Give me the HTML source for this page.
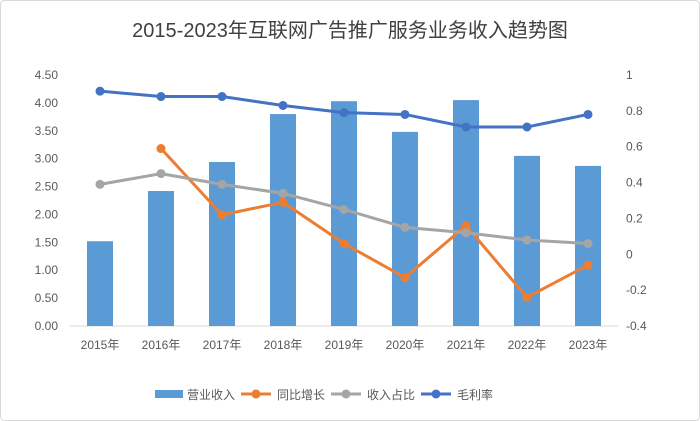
<!DOCTYPE html>
<html><head><meta charset="utf-8"><style>
body{margin:0;background:#fff;}
svg{display:block;font-family:"Liberation Sans","Noto Sans CJK SC",sans-serif;}
</style></head><body>
<svg id="chart" width="700" height="421">
<rect x="0.5" y="0.5" width="699" height="420" rx="4" fill="#fff" stroke="#d9d9d9"/>
<text x="350" y="37" text-anchor="middle" font-size="20" fill="#404040">2015-2023年互联网广告推广服务业务收入趋势图</text>
<g id="plot"></g>
</svg>
<script>
const categories=["2015年","2016年","2017年","2018年","2019年","2020年","2021年","2022年","2023年"];
const revenue=[1.52,2.42,2.94,3.80,4.03,3.48,4.05,3.05,2.87];
const growth=[null,0.59,0.22,0.29,0.06,-0.13,0.16,-0.24,-0.06];
const share=[0.39,0.45,0.39,0.34,0.25,0.15,0.12,0.08,0.06];
const margin=[0.91,0.88,0.88,0.83,0.79,0.78,0.71,0.71,0.78];
const leftTicks=["0.00","0.50","1.00","1.50","2.00","2.50","3.00","3.50","4.00","4.50"];
const rightTicks=["-0.4","-0.2","0","0.2","0.4","0.6","0.8","1"];
const NS="http://www.w3.org/2000/svg";
const g=document.getElementById('plot');
const x0=69.5,x1=618.5,yTop=75,yBot=326;
const step=(x1-x0)/categories.length;
const xc=i=>x0+step*(i+0.5);
const yL=v=>yBot-(v/4.5)*(yBot-yTop);
const yR=v=>yBot-((v+0.4)/1.4)*(yBot-yTop);
function mk(t,a,p){const e=document.createElementNS(NS,t);for(const k in a)e.setAttribute(k,a[k]);(p||g).appendChild(e);return e;}
leftTicks.forEach(t=>{const e=mk('text',{x:58,y:yL(+t)+4,'text-anchor':'end','font-size':12,fill:'#595959'});e.textContent=t;

});
rightTicks.forEach(t=>{const e=mk('text',{x:626,y:yR(+t)+4,'font-size':12,fill:'#595959'});e.textContent=t;

});
const ax=mk('line',{x1:x0,x2:x1,y1:yBot,y2:yBot,stroke:'#d9d9d9'});


categories.forEach((c,i)=>{const e=mk('text',{x:xc(i),y:349,'text-anchor':'middle','font-size':12,fill:'#595959'});e.textContent=c;

});
revenue.forEach((v,i)=>{const b=mk('rect',{x:xc(i)-13,y:yL(v),width:26,height:yBot-yL(v),fill:'#5b9bd5'});

});
function line(data,color,name){
 const pts=[];data.forEach((v,i)=>{if(v!==null)pts.push([xc(i),yR(v)]);});
 const p=mk('polyline',{points:pts.map(q=>q.join(',')).join(' '),fill:'none',stroke:color,'stroke-width':3,'stroke-linejoin':'round'});
 
 
 pts.forEach(q=>{const c=mk('circle',{cx:q[0],cy:q[1],r:4.5,fill:color});
 
 });
}
line(growth,'#ed7d31','growth');
line(share,'#a5a5a5','share');
line(margin,'#4472c4','margin');
const leg=[["营业收入","#5b9bd5","bar",155],["同比增长","#ed7d31","l",245],["收入占比","#a5a5a5","l",335],["毛利率","#4472c4","l",425]];
leg.forEach(L=>{const lg=mk('g',{});
 
 
 if(L[2]=='bar')mk('rect',{x:L[3],y:390,width:28,height:8,fill:L[1]},lg);
 else{mk('line',{x1:L[3]-4,x2:L[3]+26,y1:394,y2:394,stroke:L[1],'stroke-width':3},lg);mk('circle',{cx:L[3]+11,cy:394,r:4.5,fill:L[1]},lg);}
 const t=mk('text',{x:L[3]+32,y:399,'font-size':12,fill:'#595959'},lg);t.textContent=L[0];});
</script>
</body></html>
